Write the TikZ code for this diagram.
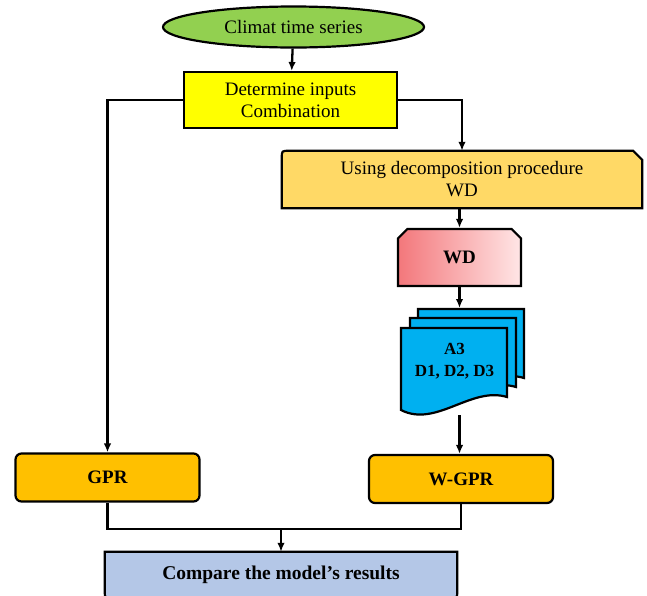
\documentclass[tikz,border=0pt]{standalone}
\usepackage{fontspec}
\setmainfont{Liberation Serif}
\usetikzlibrary{arrows.meta,shapes.geometric,shapes.misc,backgrounds}

\definecolor{seriesgreen}{HTML}{92D050}
\definecolor{inputyellow}{HTML}{FFFF00}
\definecolor{decompgold}{HTML}{FFD966}
\definecolor{wdred}{HTML}{F3777B}
\definecolor{wdpink}{HTML}{FFE6E6}
\definecolor{pageblue}{HTML}{00B0F0}
\definecolor{modelorange}{HTML}{FFC000}
\definecolor{compareblue}{HTML}{B4C7E7}

\begin{document}
\begin{tikzpicture}[x=1pt,y=-1pt,
                    font=\fontsize{19}{22}\selectfont,
                    link/.style={line width=2.3pt,-{Latex[length=9pt,width=7.5pt]}},
                    main box/.style={draw,line width=2.2pt,align=center,inner sep=0pt},
                    model box/.style={main box,rounded corners=6pt,fill=modelorange,
                                      minimum width=184pt,minimum height=48pt,font=\fontsize{19}{22}\selectfont\bfseries},
                    doc page/.style={draw,line width=2.2pt,fill=pageblue}]

  \useasboundingbox (0,0) rectangle (647,595);
  \clip (0,0) rectangle (647,595);

  \node[main box,ellipse,fill=seriesgreen,minimum width=261pt,minimum height=41pt] (series) at (293.5,27) {Climat time series};
  \node[main box,fill=inputyellow,minimum width=213pt,minimum height=56pt] (inputs) at (290.5,100) {Determine inputs\\Combination};
  \node[align=center,minimum width=360pt,minimum height=57pt,inner sep=0pt] (decomp) at (462,179.5) {Using decomposition procedure\\WD};
  \node[main box,chamfered rectangle,chamfered rectangle corners={north west,north east},
        chamfered rectangle xsep=8pt,left color=wdred,right color=wdpink,
        minimum width=123pt,minimum height=57pt,font=\fontsize{19}{22}\selectfont\bfseries] (wd) at (459.5,257.5) {WD};

  % stacked result pages
  \foreach \sx/\sy in {17/-19,9/-10,0/0}{
    \begin{scope}[shift={(401+\sx,328+\sy)}]
      \draw[doc page] (0,0) -- (106,0) -- (106,69) .. controls (70,58) and (35,100) .. (0,82) -- cycle;
    \end{scope}
  }
  \node[align=center,font=\fontsize{17}{22}\selectfont\bfseries] (docs) at (454.5,361) {A3\\D1, D2, D3};
  \coordinate (docsin) at (459.5,308);
  \coordinate (docsout) at (459.5,415);

  \node[model box] (gpr) at (107.5,477.5) {GPR};
  \node[model box] (wgpr) at (461,479) {W-GPR};
  \node[minimum width=352pt,minimum height=46pt,inner sep=0pt,font=\fontsize{19.5}{22}\selectfont\bfseries] (compare) at (281,575) {Compare the model’s results};
  \coordinate (join) at (281,529);

  \begin{pgfonlayer}{background}
    \draw[line width=2.2pt,fill=decompgold] (decomp.south west) -- ([yshift=-7pt]decomp.north west)
      .. controls (decomp.north west) .. ([xshift=7pt]decomp.north west)
      -- ([xshift=-9pt]decomp.north east) -- ([yshift=-9pt]decomp.north east)
      -- (decomp.south east) -- cycle;
    \draw[line width=2.2pt,fill=compareblue] (compare.north west) -- (compare.north east)
      -- ([yshift=7pt]compare.south east) .. controls (compare.south east) .. ([xshift=-7pt]compare.south east)
      -- ([xshift=7pt]compare.south west) .. controls (compare.south west) .. ([yshift=7pt]compare.south west)
      -- cycle;
  \end{pgfonlayer}

  \draw[link] (series) -- (inputs);
  \draw[link] (inputs.west) -| (gpr.north);
  \draw[link] (inputs.east) -| (decomp.north);
  \draw[link] (decomp.south -| wd.north) -- (wd.north);
  \draw[link] (wd.south) -- (docsin);
  \draw[link] (docsout) -- (docsout |- wgpr.north);
  \draw[link,-] (gpr.south) |- (join) -| (wgpr.south);
  \draw[link] (join) -- (compare.north);
\end{tikzpicture}
\end{document}
